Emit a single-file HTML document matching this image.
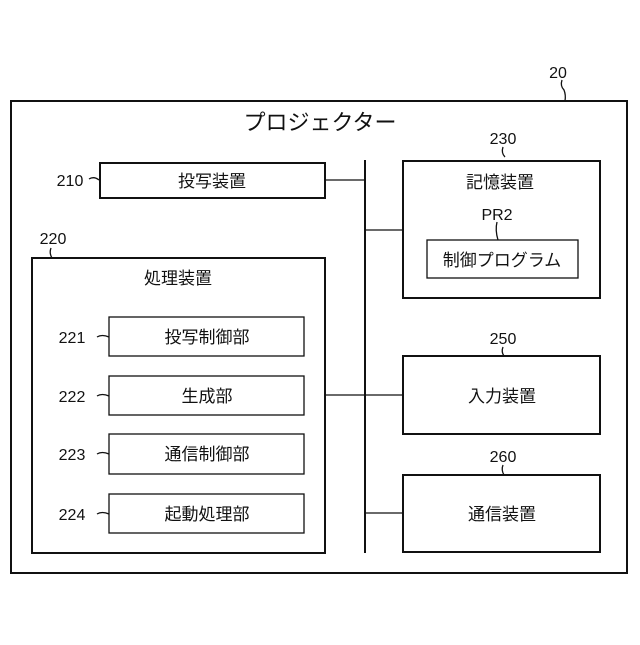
<!DOCTYPE html>
<html><head><meta charset="utf-8"><style>
body{margin:0;background:#fff;}
svg text{font-family:"Liberation Sans","Noto Sans CJK JP",sans-serif;fill:#111;}
</style></head><body>
<svg width="640" height="640" viewBox="0 0 640 640" xmlns="http://www.w3.org/2000/svg">
<g fill="none" stroke="#111" stroke-width="2">
<rect x="11" y="101" width="616" height="472"/>
<rect x="100" y="163" width="225" height="35"/>
<rect x="403" y="161" width="197" height="137"/>
<rect x="32" y="258" width="293" height="295"/>
<rect x="403" y="356" width="197" height="78"/>
<rect x="403" y="475" width="197" height="77"/>
<line x1="365" y1="160" x2="365" y2="553"/>
</g>
<g fill="none" stroke="#111" stroke-width="1.3">
<rect x="427" y="240" width="151" height="38"/>
<rect x="109" y="317" width="195" height="39"/>
<rect x="109" y="376" width="195" height="39"/>
<rect x="109" y="434" width="195" height="40"/>
<rect x="109" y="494" width="195" height="39"/>
<line x1="325" y1="180" x2="365" y2="180"/>
<line x1="365" y1="230" x2="403" y2="230"/>
<line x1="325" y1="395" x2="403" y2="395"/>
<line x1="365" y1="513" x2="403" y2="513"/>
<path d="M562 80 q-2 6 2 10 q2 5 1 11"/>
<path d="M503 147 q-2 6 2 10"/>
<path d="M497 222 q-2 8 1 18"/>
<path d="M503 347 q-2 5 1 9"/>
<path d="M503 465 q-2 5 1 10"/>
<path d="M51 248 q-2 5 1 10"/>
<path d="M89 179 q5 -3 10 1"/>
<path d="M97 337 q5 -3 12 0"/>
<path d="M97 396 q5 -3 12 0"/>
<path d="M97 454 q5 -3 12 0"/>
<path d="M97 514 q5 -3 12 0"/>
</g>
<g font-size="17">
<text x="320" y="130" text-anchor="middle" font-size="22">プロジェクター</text>
<text x="558" y="78" text-anchor="middle" font-size="16">20</text>
<text x="503" y="144" text-anchor="middle" font-size="16">230</text>
<text x="70" y="186" text-anchor="middle" font-size="16">210</text>
<text x="212" y="187" text-anchor="middle">投写装置</text>
<text x="500" y="188" text-anchor="middle">記憶装置</text>
<text x="497" y="220" text-anchor="middle" font-size="16">PR2</text>
<text x="502" y="266" text-anchor="middle">制御プログラム</text>
<text x="53" y="244" text-anchor="middle" font-size="16">220</text>
<text x="178" y="284" text-anchor="middle">処理装置</text>
<text x="72" y="343" text-anchor="middle" font-size="16">221</text>
<text x="72" y="402" text-anchor="middle" font-size="16">222</text>
<text x="72" y="460" text-anchor="middle" font-size="16">223</text>
<text x="72" y="520" text-anchor="middle" font-size="16">224</text>
<text x="207" y="343" text-anchor="middle">投写制御部</text>
<text x="207" y="402" text-anchor="middle">生成部</text>
<text x="207" y="460" text-anchor="middle">通信制御部</text>
<text x="207" y="520" text-anchor="middle">起動処理部</text>
<text x="503" y="344" text-anchor="middle" font-size="16">250</text>
<text x="502" y="402" text-anchor="middle">入力装置</text>
<text x="503" y="462" text-anchor="middle" font-size="16">260</text>
<text x="502" y="520" text-anchor="middle">通信装置</text>
</g>
</svg>
</body></html>
